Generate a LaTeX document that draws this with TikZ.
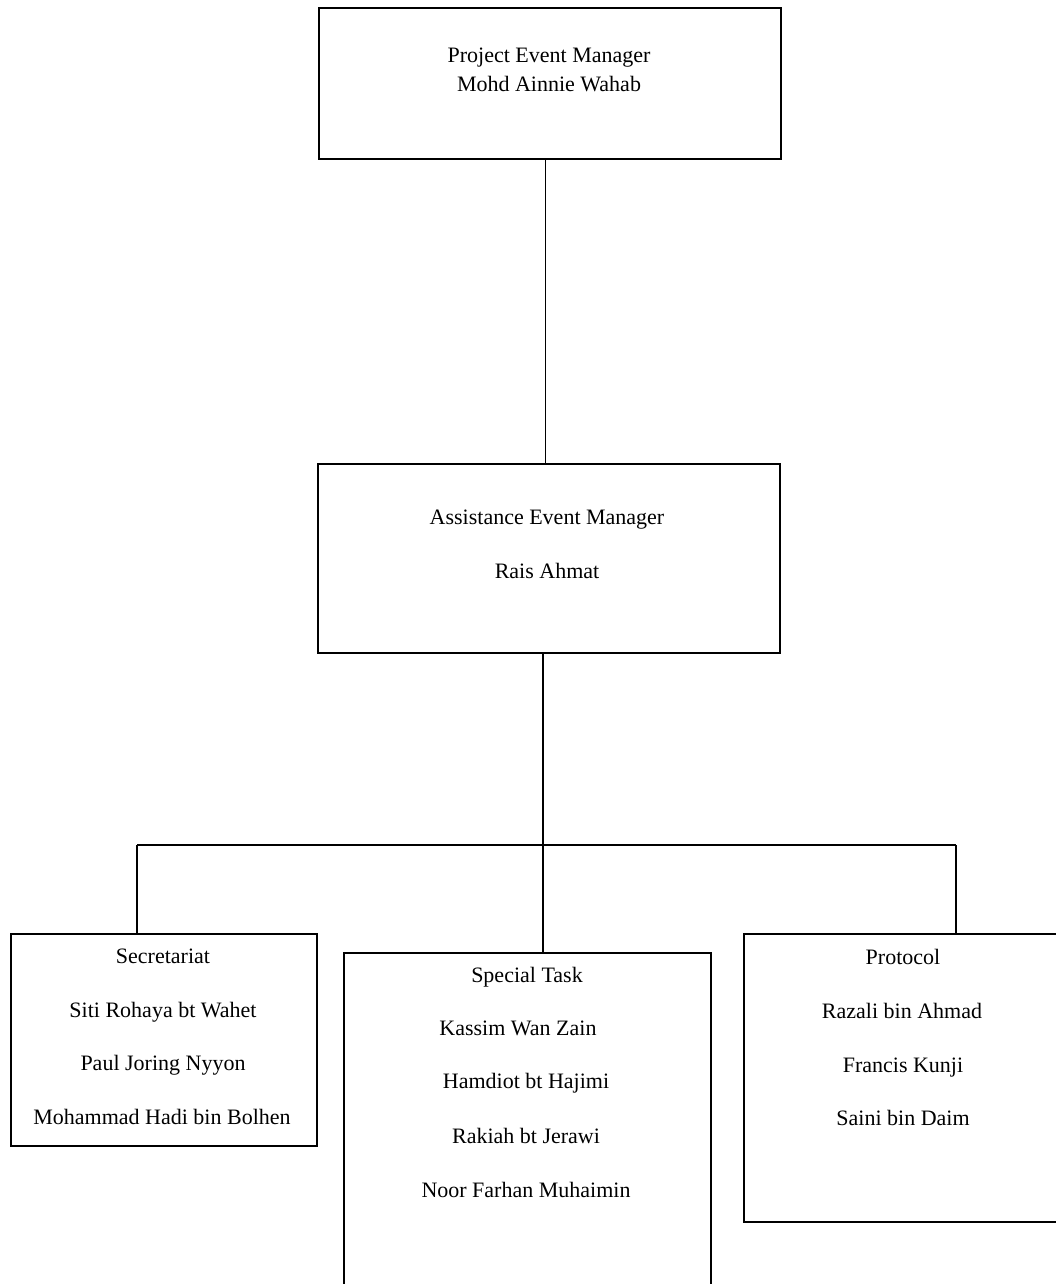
\documentclass[tikz,border=0pt]{standalone}
\usepackage{fontspec}
\setmainfont{Liberation Serif}
\begin{document}
\begin{tikzpicture}[x=1pt,y=-1pt,
  boxstyle/.style={draw, line width=1.6pt, inner sep=0pt, anchor=north west},
  conn/.style={line width=1.2pt},
  lbl/.style={anchor=base, inner sep=0pt, font=\fontsize{22}{24}\selectfont}]
\useasboundingbox (0,0) rectangle (1056,1284);
% boxes
\node[boxstyle, minimum width=462pt, minimum height=151pt] (top) at (318,7) {};
\node[boxstyle, minimum width=462pt, minimum height=189pt] (mid) at (317,463) {};
\node[boxstyle, minimum width=306pt, minimum height=212pt] (sec) at (10,933) {};
\node[boxstyle, minimum width=367pt, minimum height=340pt] (spec) at (343,952) {};
\node[boxstyle, minimum width=330pt, minimum height=288pt] (prot) at (743,933) {};
% texts
\node[lbl] (t1) at (549,63) {Project Event Manager};
\node[lbl] (t2) at (549,92) {Mohd Ainnie Wahab};
\node[lbl] (m1) at (547,524) {Assistance Event Manager};
\node[lbl] (m2) at (547,578) {Rais Ahmat};
\node[lbl] (s1) at (163,963) {Secretariat};
\node[lbl] (s2) at (163,1017) {Siti Rohaya bt Wahet};
\node[lbl] (s3) at (163,1070) {Paul Joring Nyyon};
\node[lbl] (s4) at (162,1124) {Mohammad Hadi bin Bolhen};
\node[lbl] (k1) at (527,982) {Special Task};
\node[lbl] (k2) at (518,1035) {Kassim Wan Zain};
\node[lbl] (k3) at (526,1088) {Hamdiot bt Hajimi};
\node[lbl] (k4) at (526,1143) {Rakiah bt Jerawi};
\node[lbl] (k5) at (526,1197) {Noor Farhan Muhaimin};
\node[lbl] (p1) at (903,964) {Protocol};
\node[lbl] (p2) at (902,1018) {Razali bin Ahmad};
\node[lbl] (p3) at (903,1072) {Francis Kunji};
\node[lbl] (p4) at (903,1125) {Saini bin Daim};
% connectors
\coordinate (busL) at (137,845);
\coordinate (busR) at (956,845);
\coordinate (busC) at (543,845);
\draw[conn] ([xshift=-4pt]top.south) -- ([xshift=-4pt]top.south |- mid.north);
\draw[conn] (busC |- mid.south) -- (busC |- spec.north);
\draw[conn] (busL) -- (busR);
\draw[conn] (busL) -- (busL |- sec.north);
\draw[conn] (busR) -- (busR |- prot.north);
\end{tikzpicture}
\end{document}
